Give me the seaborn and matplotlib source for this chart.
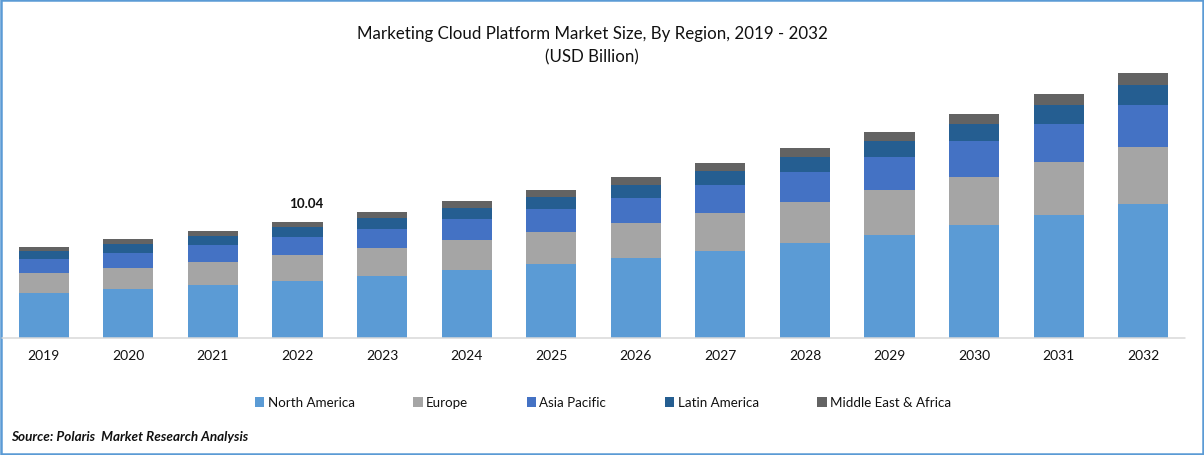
import matplotlib
matplotlib.use("Agg")
import matplotlib.pyplot as plt
from matplotlib.patches import Rectangle
import pandas as pd
import seaborn as sns

years = ["2019", "2020", "2021", "2022", "2023", "2024", "2025", "2026", "2027", "2028", "2029", "2030", "2031", "2032"]
north_america = [3.89, 4.24, 4.59, 4.93, 5.37, 5.89, 6.40, 6.92, 7.53, 8.22, 8.91, 9.78, 10.65, 11.60]
europe = [1.73, 1.82, 1.99, 2.25, 2.42, 2.60, 2.77, 3.03, 3.29, 3.55, 3.89, 4.15, 4.59, 4.93]
asia_pacific = [1.21, 1.30, 1.47, 1.56, 1.64, 1.82, 1.99, 2.16, 2.42, 2.60, 2.86, 3.12, 3.29, 3.64]
latin_america = [0.69, 0.78, 0.78, 0.87, 0.95, 0.95, 1.04, 1.13, 1.21, 1.30, 1.38, 1.47, 1.64, 1.73]
middle_east_africa = [0.35, 0.43, 0.43, 0.43, 0.52, 0.61, 0.61, 0.69, 0.69, 0.78, 0.78, 0.87, 0.95, 1.04]
series_names = ["North America", "Europe", "Asia Pacific", "Latin America", "Middle East & Africa"]
series_values = [north_america, europe, asia_pacific, latin_america, middle_east_africa]
colors = ["#5B9BD5", "#A5A5A5", "#4472C4", "#255E91", "#636363"]
annotated_year = "2022"
annotated_label = "10.04"

W, H = 1204, 456
sns.set_style("white")
plt.rcParams["font.family"] = ["Lato", "DejaVu Sans"]

fig = plt.figure(figsize=(W / 100, H / 100), dpi=100, facecolor="white")
ax = fig.add_axes([1.5 / W, 1 - 339 / H, 1184 / W, 298 / H])

bottom = [0.0] * len(years)
for name, vals, col in zip(series_names, series_values, colors):
    df = pd.DataFrame({"year": years, "value": vals})
    sns.barplot(data=df, x="year", y="value", color=col, saturation=1, width=0.592,
                bottom=bottom, label=name, ax=ax, errorbar=None, linewidth=0)
    bottom = [b + v for b, v in zip(bottom, vals)]

ax.set_xlim(-0.5, 13.5)
ax.set_ylim(0, 298 * 10.04 / 116)
ax.set_xlabel("")
ax.set_ylabel("")
ax.set_yticks([])
ax.tick_params(axis="x", length=0, pad=8, labelsize=10, labelcolor="#111111")
for s in ["top", "left", "right", "bottom"]:
    ax.spines[s].set_visible(False)
fig.add_artist(plt.Line2D([2 / W, 1185 / W], [1 - 339 / H] * 2, color="#D9D9D9", lw=1.1))

i = years.index(annotated_year)
ax.text(i + 0.107, bottom[i] + 1.09, annotated_label, ha="center", va="bottom",
        fontsize=9.6, fontweight="bold", color="#111111")

handles, labels = ax.get_legend_handles_labels()
ax.get_legend().remove()
fig.legend(handles, labels, ncols=5, loc="center", bbox_to_anchor=(603 / W, 1 - 403.5 / H),
           frameon=False, fontsize=9.6, handlelength=0.7, handleheight=0.7, handletextpad=0.25,
           columnspacing=4.4, labelcolor="#111111", borderpad=0)

fig.text(592 / W, 1 - 34.5 / H, "Marketing Cloud Platform Market Size, By Region, 2019 - 2032",
         ha="center", va="center", fontsize=12.2, color="#111111")
fig.text(592 / W, 1 - 57.5 / H, "(USD Billion)", ha="center", va="center", fontsize=12.2, color="#111111")
fig.text(11 / W, 1 - 437 / H, "Source: Polaris  Market Research Analysis", ha="left", va="center",
         fontsize=9.7, fontweight="bold", style="italic", color="#111111")

fig.add_artist(Rectangle((1 / W, 1 / H), (W - 2) / W, (H - 2) / H, transform=fig.transFigure,
                         fill=False, edgecolor="#5B9BD5", lw=1.8))
fig.savefig("out.png", dpi=100, facecolor="white")
